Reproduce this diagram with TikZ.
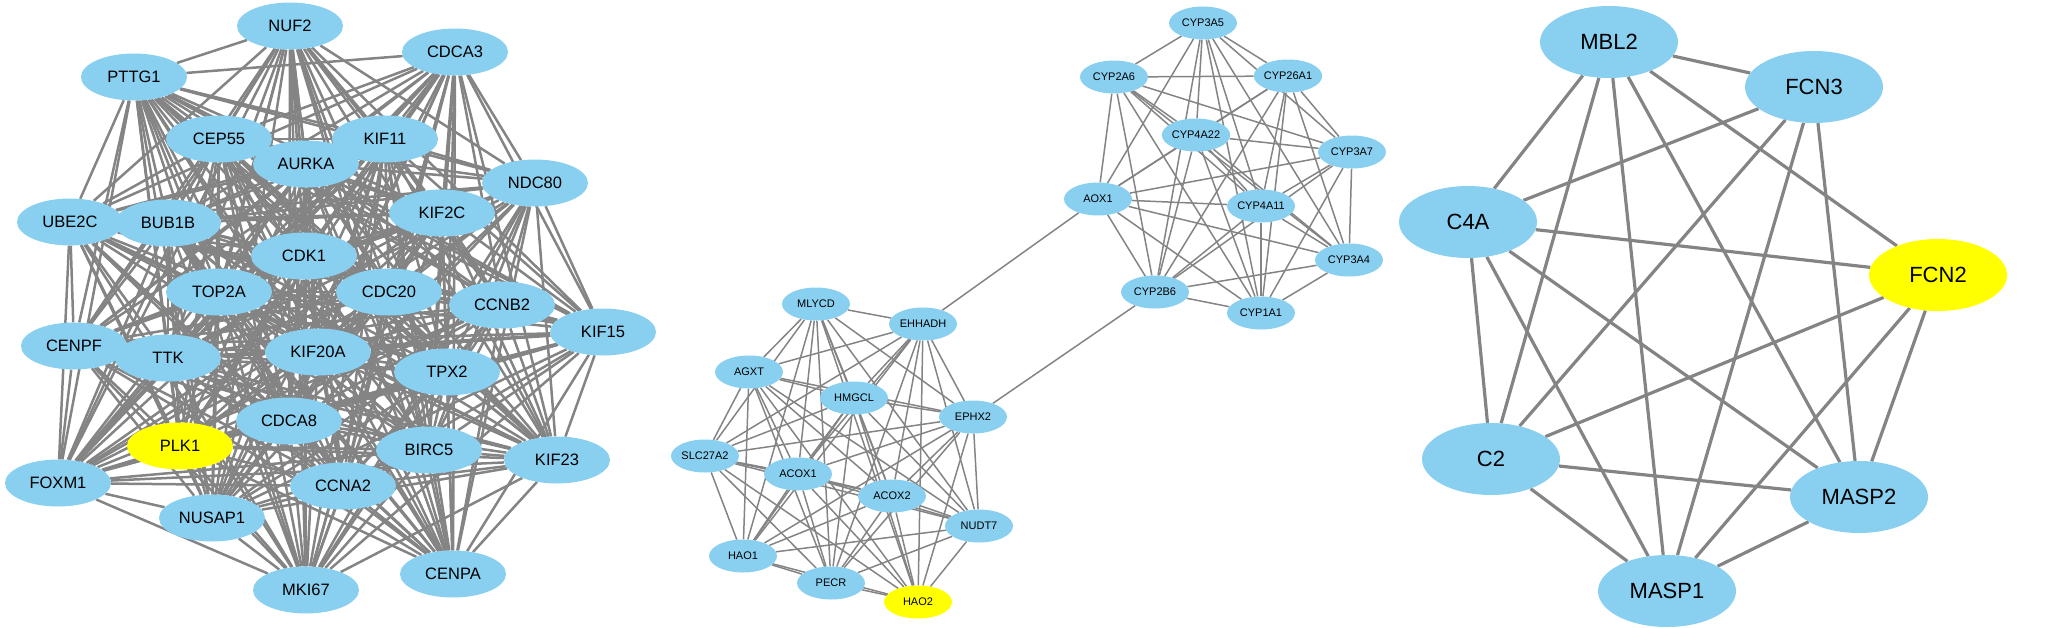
\documentclass[tikz,border=0pt]{standalone}
\usepackage{fontspec}
\setmainfont{Liberation Sans}
\usetikzlibrary{shapes.geometric}
\definecolor{nodeblue}{RGB}{137,207,240}
\definecolor{hubyellow}{RGB}{255,255,0}
\definecolor{edgegray}{RGB}{132,132,132}
\pgfdeclarelayer{bg}
\pgfsetlayers{bg,main}
\tikzset{
	gene/.style={ellipse, fill=nodeblue, inner sep=0pt, text=black},
	bignet/.style={gene, minimum width=106pt, minimum height=47pt, font=\fontsize{16.5}{18}\selectfont},
	smallnet/.style={gene, minimum width=68pt, minimum height=33pt, font=\fontsize{11}{13}\selectfont},
	compnet/.style={gene, minimum width=138pt, minimum height=72pt, font=\fontsize{22}{26}\selectfont},
	hub/.style={fill=hubyellow},
	link/.style={draw=edgegray, line width=#1},
}
\def\leftgenes{NUF2,CDCA3,PTTG1,CEP55,KIF11,AURKA,NDC80,KIF2C,UBE2C,BUB1B,CDK1,TOP2A,CDC20,CCNB2,KIF15,CENPF,TTK,KIF20A,TPX2,CDCA8,PLK1,BIRC5,KIF23,FOXM1,CCNA2,NUSAP1,CENPA,MKI67}
\def\lipidgenes{MLYCD,EHHADH,AGXT,HMGCL,EPHX2,SLC27A2,ACOX1,ACOX2,NUDT7,HAO1,PECR,HAO2}
\def\cypgenes{CYP3A5,CYP2A6,CYP26A1,CYP4A22,CYP3A7,AOX1,CYP4A11,CYP3A4,CYP2B6,CYP1A1}
% pairs with no interaction
\def\noedge#1#2{\expandafter\def\csname noedge-#1-#2\endcsname{}\expandafter\def\csname noedge-#2-#1\endcsname{}}
\noedge{NUF2}{CDCA3}
\noedge{CENPA}{MKI67}
\noedge{FOXM1}{CENPA}
\noedge{NUSAP1}{CENPA}

\begin{document}
\begin{tikzpicture}[x=1pt, y=-1pt]
		%%%%% START %%%%%
		\useasboundingbox (0, 0) rectangle (2056, 627);
		
		% left cluster
		\node[bignet] (NUF2) at (290, 26) {NUF2};
		\node[bignet] (CDCA3) at (455, 52) {CDCA3};
		\node[bignet] (PTTG1) at (134, 77) {PTTG1};
		\node[bignet] (CEP55) at (219, 139) {CEP55};
		\node[bignet] (KIF11) at (385, 139) {KIF11};
		\node[bignet] (AURKA) at (306, 164) {AURKA};
		\node[bignet] (NDC80) at (535, 183) {NDC80};
		\node[bignet] (KIF2C) at (442, 213) {KIF2C};
		\node[bignet] (UBE2C) at (70, 222) {UBE2C};
		\node[bignet] (BUB1B) at (168, 223) {BUB1B};
		\node[bignet] (CDK1) at (304, 256) {CDK1};
		\node[bignet] (TOP2A) at (219, 292) {TOP2A};
		\node[bignet] (CDC20) at (389, 292) {CDC20};
		\node[bignet] (CCNB2) at (502, 305) {CCNB2};
		\node[bignet] (KIF15) at (603, 332) {KIF15};
		\node[bignet] (CENPF) at (74, 346) {CENPF};
		\node[bignet] (TTK) at (168, 358) {TTK};
		\node[bignet] (KIF20A) at (318, 352) {KIF20A};
		\node[bignet] (TPX2) at (447, 372) {TPX2};
		\node[bignet] (CDCA8) at (289, 421) {CDCA8};
		\node[bignet, hub] (PLK1) at (180, 446) {PLK1};
		\node[bignet] (BIRC5) at (429, 450) {BIRC5};
		\node[bignet] (KIF23) at (557, 460) {KIF23};
		\node[bignet] (FOXM1) at (58, 483) {FOXM1};
		\node[bignet] (CCNA2) at (343, 486) {CCNA2};
		\node[bignet] (NUSAP1) at (212, 518) {NUSAP1};
		\node[bignet] (CENPA) at (453, 574) {CENPA};
		\node[bignet] (MKI67) at (306, 590) {MKI67};
		
		% middle cluster, lower part
		\node[smallnet] (MLYCD) at (816, 304) {MLYCD};
		\node[smallnet] (EHHADH) at (923, 324) {EHHADH};
		\node[smallnet] (AGXT) at (749, 372) {AGXT};
		\node[smallnet] (HMGCL) at (854, 398) {HMGCL};
		\node[smallnet] (EPHX2) at (973, 417) {EPHX2};
		\node[smallnet] (SLC27A2) at (705, 456) {SLC27A2};
		\node[smallnet] (ACOX1) at (798, 474) {ACOX1};
		\node[smallnet] (ACOX2) at (892, 496) {ACOX2};
		\node[smallnet] (NUDT7) at (979, 526) {NUDT7};
		\node[smallnet] (HAO1) at (743, 556) {HAO1};
		\node[smallnet] (PECR) at (831, 583) {PECR};
		\node[smallnet, hub] (HAO2) at (918, 602) {HAO2};
		
		% middle cluster, upper part
		\node[smallnet] (CYP3A5) at (1203, 23) {CYP3A5};
		\node[smallnet] (CYP2A6) at (1114, 77) {CYP2A6};
		\node[smallnet] (CYP26A1) at (1288, 76) {CYP26A1};
		\node[smallnet] (CYP4A22) at (1196, 135) {CYP4A22};
		\node[smallnet] (CYP3A7) at (1352, 152) {CYP3A7};
		\node[smallnet] (AOX1) at (1098, 199) {AOX1};
		\node[smallnet] (CYP4A11) at (1261, 206) {CYP4A11};
		\node[smallnet] (CYP3A4) at (1349, 260) {CYP3A4};
		\node[smallnet] (CYP2B6) at (1155, 292) {CYP2B6};
		\node[smallnet] (CYP1A1) at (1261, 313) {CYP1A1};
		
		% right cluster
		\node[compnet] (MBL2) at (1609, 42) {MBL2};
		\node[compnet] (FCN3) at (1814, 87) {FCN3};
		\node[compnet] (C4A) at (1468, 222) {C4A};
		\node[compnet, hub] (FCN2) at (1938, 275) {FCN2};
		\node[compnet] (C2) at (1491, 459) {C2};
		\node[compnet] (MASP2) at (1859, 497) {MASP2};
		\node[compnet] (MASP1) at (1667, 591) {MASP1};
		
		\begin{pgfonlayer}{bg}
			\foreach \a [count=\i] in \leftgenes {
				\foreach \b [count=\j] in \leftgenes {
					\ifnum\j>\i
						\ifcsname noedge-\a-\b\endcsname\else \draw[link=2.5pt] (\a) -- (\b); \fi
					\fi
				}
			}
			\foreach \a [count=\i] in \lipidgenes {
				\foreach \b [count=\j] in \lipidgenes {
					\ifnum\j>\i \draw[link=1.5pt] (\a) -- (\b); \fi
				}
			}
			\foreach \a [count=\i] in \cypgenes {
				\foreach \b [count=\j] in \cypgenes {
					\ifnum\j>\i \draw[link=1.5pt] (\a) -- (\b); \fi
				}
			}
			\draw[link=1.5pt] (AOX1) -- (EHHADH);
			\draw[link=1.5pt] (CYP2B6) -- (EPHX2);
			
			\foreach \a/\b in {MBL2/FCN3, MBL2/C4A, MBL2/C2, MBL2/MASP1, MBL2/MASP2, MBL2/FCN2,
				FCN3/C4A, FCN3/C2, FCN3/MASP1, FCN3/MASP2,
				C4A/FCN2, C4A/C2, C4A/MASP1, C4A/MASP2,
				FCN2/C2, FCN2/MASP1, FCN2/MASP2,
				C2/MASP2, C2/MASP1, MASP2/MASP1}
				\draw[link=3.2pt] (\a) -- (\b);
		\end{pgfonlayer}
		
		%%%%% END %%%%%
\end{tikzpicture}
\end{document}
